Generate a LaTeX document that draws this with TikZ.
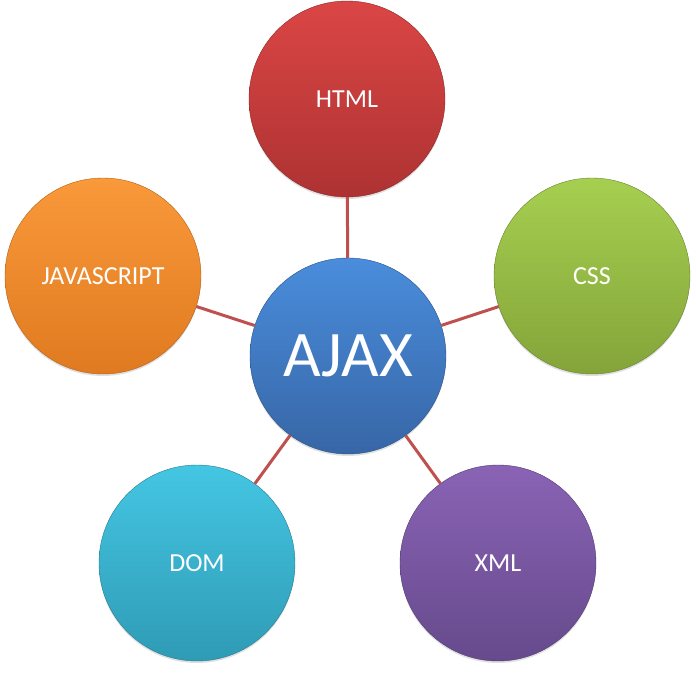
\documentclass[tikz,border=0pt]{standalone}
\usepackage{fontspec}
\setmainfont{Carlito}
\usepackage{xcolor}
\usetikzlibrary{shadows}

\definecolor{redtop}{HTML}{DA4645}
\definecolor{redbot}{HTML}{AE3232}
\definecolor{bluetop}{HTML}{4A8DDC}
\definecolor{bluebot}{HTML}{3766A6}
\definecolor{orangetop}{HTML}{F9993A}
\definecolor{orangebot}{HTML}{E07A20}
\definecolor{greentop}{HTML}{A6CF50}
\definecolor{greenbot}{HTML}{84A43A}
\definecolor{cyantop}{HTML}{44C6E3}
\definecolor{cyanbot}{HTML}{2F9BB5}
\definecolor{purpletop}{HTML}{8A63B5}
\definecolor{purplebot}{HTML}{664A8C}
\definecolor{linkred}{HTML}{C0504D}

\tikzset{
  ball/.style={circle,minimum size=196pt,inner sep=0pt,text=white,
    font=\fontsize{26}{30}\selectfont,
    drop shadow={shadow xshift=0pt,shadow yshift=-2pt,opacity=0.25}},
  link/.style={draw=linkred,line width=3pt}
}

\begin{document}
\begin{tikzpicture}[x=1pt,y=-1pt]
\useasboundingbox (0,0) rectangle (696,672);
\draw (348,356) node[ball,top color=bluetop,bottom color=bluebot,draw=bluebot!80!black,
  font=\fontsize{65}{70}\selectfont](ajax) {AJAX};
\draw (347,99) node[ball,top color=redtop,bottom color=redbot,draw=redbot!80!black](html) {HTML};
\draw (592,276) node[ball,top color=greentop,bottom color=greenbot,draw=greenbot!80!black](css) {CSS};
\draw (103,276) node[ball,top color=orangetop,bottom color=orangebot,draw=orangebot!80!black](js) {JAVASCRIPT};
\draw (197,563) node[ball,top color=cyantop,bottom color=cyanbot,draw=cyanbot!80!black](dom) {DOM};
\draw (498,563) node[ball,top color=purpletop,bottom color=purplebot,draw=purplebot!80!black](xml) {XML};
\draw[link] (ajax) -- (html);
\draw[link] (ajax) -- (css);
\draw[link] (ajax) -- (js);
\draw[link] (ajax) -- (dom);
\draw[link] (ajax) -- (xml);
\end{tikzpicture}
\end{document}
